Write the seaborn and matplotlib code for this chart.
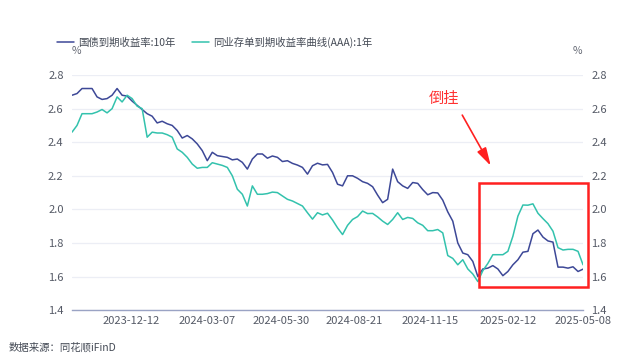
import matplotlib
matplotlib.use("Agg")
import matplotlib.pyplot as plt
import matplotlib.patches as mpatches
import pandas as pd
import seaborn as sns

start_date = "2023-10-06"
end_date = "2025-05-08"

gov_10y = [
    2.68, 2.69, 2.72, 2.72, 2.72, 2.67, 2.655, 2.66, 2.68, 2.72,
    2.68, 2.675, 2.645, 2.62, 2.595, 2.57, 2.555, 2.515, 2.525, 2.51,
    2.50, 2.47, 2.425, 2.44, 2.42, 2.39, 2.35, 2.29, 2.34, 2.32,
    2.315, 2.31, 2.295, 2.30, 2.28, 2.24, 2.30, 2.33, 2.33, 2.305,
    2.318, 2.31, 2.285, 2.29, 2.274, 2.264, 2.25, 2.21, 2.26, 2.275,
    2.265, 2.268, 2.22, 2.15, 2.14, 2.20, 2.20, 2.185, 2.165, 2.155,
    2.135, 2.085, 2.04, 2.06, 2.24, 2.165, 2.14, 2.125, 2.16, 2.155,
    2.118, 2.087, 2.10, 2.098, 2.055, 1.985, 1.93, 1.80, 1.74, 1.73,
    1.69, 1.60, 1.645, 1.65, 1.665, 1.645, 1.605, 1.63, 1.67, 1.70,
    1.745, 1.75, 1.855, 1.877, 1.835, 1.812, 1.805, 1.656, 1.656, 1.65,
    1.658, 1.63, 1.644,
]

ncd_1y = [
    2.46, 2.50, 2.57, 2.57, 2.57, 2.58, 2.595, 2.575, 2.60, 2.67,
    2.64, 2.68, 2.66, 2.615, 2.60, 2.43, 2.46, 2.455, 2.455, 2.445,
    2.43, 2.36, 2.34, 2.31, 2.27, 2.245, 2.25, 2.25, 2.278, 2.27,
    2.262, 2.25, 2.20, 2.12, 2.09, 2.02, 2.14, 2.09, 2.09, 2.094,
    2.103, 2.10, 2.08, 2.06, 2.05, 2.035, 2.02, 1.98, 1.942, 1.98,
    1.967, 1.977, 1.937, 1.89, 1.85, 1.905, 1.94, 1.957, 1.99, 1.975,
    1.976, 1.955, 1.93, 1.91, 1.94, 1.98, 1.94, 1.952, 1.946, 1.92,
    1.905, 1.873, 1.873, 1.88, 1.86, 1.725, 1.708, 1.67, 1.70, 1.645,
    1.615, 1.57, 1.635, 1.678, 1.73, 1.73, 1.73, 1.75, 1.84, 1.96,
    2.026, 2.025, 2.033, 1.977, 1.945, 1.915, 1.87, 1.772, 1.758, 1.762,
    1.762, 1.75, 1.67,
]

tick_dates = ["2023-12-12", "2024-03-07", "2024-05-30", "2024-08-21",
              "2024-11-15", "2025-02-12", "2025-05-08"]
y_ticks = [1.4, 1.6, 1.8, 2.0, 2.2, 2.4, 2.6, 2.8]

label_gov = "国债到期收益率:10年"
label_ncd = "同业存单到期收益率曲线(AAA):1年"

dates = pd.date_range(start_date, end_date, periods=len(gov_10y))
df = pd.DataFrame({"date": dates, "gov": gov_10y, "ncd": ncd_1y})

sns.set_theme(style="white")
plt.rcParams["font.family"] = ["Noto Sans CJK SC", "DejaVu Sans"]

fig = plt.figure(figsize=(6.4, 3.61), dpi=100)
ax = fig.add_axes([0.1125, 0.141, 0.7985, 0.651])

sns.lineplot(data=df, x="date", y="gov", ax=ax, color="#3d4897", linewidth=1.1, label=label_gov)
sns.lineplot(data=df, x="date", y="ncd", ax=ax, color="#33c2ad", linewidth=1.1, label=label_ncd)

ax.set_xlim(pd.Timestamp(start_date), pd.Timestamp(end_date))
ax.set_ylim(1.4, 2.8)
ax.set_yticks(y_ticks)
ax.set_yticklabels([f"{v:.1f}" for v in y_ticks])
ax.set_xticks(pd.to_datetime(tick_dates))
ax.set_xticklabels(tick_dates)
ax.set_xlabel("")
ax.set_ylabel("")
ax.grid(axis="y", color="#eceef5", linewidth=0.9)
ax.set_axisbelow(True)
for s in ["top", "left", "right"]:
    ax.spines[s].set_visible(False)
ax.spines["bottom"].set_color("#9aa3c4")
ax.spines["bottom"].set_linewidth(1.0)
ax.tick_params(axis="both", length=0, labelsize=8, colors="#555a66")
ax.tick_params(axis="y", pad=6)
ax.tick_params(axis="x", pad=4)

ax2 = ax.twinx()
ax2.set_ylim(1.4, 2.8)
ax2.set_yticks(y_ticks)
ax2.set_yticklabels([f"{v:.1f}" for v in y_ticks])
for s in ax2.spines.values():
    s.set_visible(False)
ax2.tick_params(axis="y", length=0, labelsize=8, colors="#555a66", pad=6)
ax2.grid(False)

handles, labels = ax.get_legend_handles_labels()
ax.get_legend().remove()
fig.legend(handles, labels, loc="upper left", bbox_to_anchor=(0.075, 0.925),
           ncol=2, frameon=False, fontsize=7.5, handlelength=1.6,
           handletextpad=0.4, columnspacing=1.6, labelcolor="#444a55")

fig.text(0.119, 0.86, "%", fontsize=7.5, color="#666a75", ha="center", va="center")
fig.text(0.902, 0.86, "%", fontsize=7.5, color="#666a75", ha="center", va="center")

# inversion highlight
ax.add_patch(mpatches.Rectangle((0.796, 0.1), 0.213, 0.44, transform=ax.transAxes,
                                fill=False, edgecolor="#ff2020", linewidth=1.8, clip_on=False, zorder=5))
ax.annotate("", xy=(0.822, 0.604), xytext=(0.761, 0.84), xycoords="axes fraction",
            arrowprops=dict(arrowstyle="-|>,head_length=0.9,head_width=0.25", color="#ff2020", lw=1.2))
ax.text(0.728, 0.90, "倒挂", transform=ax.transAxes, fontsize=11, color="#ff3030",
        ha="center", va="center")

fig.text(0.013, 0.036, "数据来源：同花顺iFinD", fontsize=7.5, color="#444a55", ha="left", va="center")

fig.savefig("out.png", dpi=100)
